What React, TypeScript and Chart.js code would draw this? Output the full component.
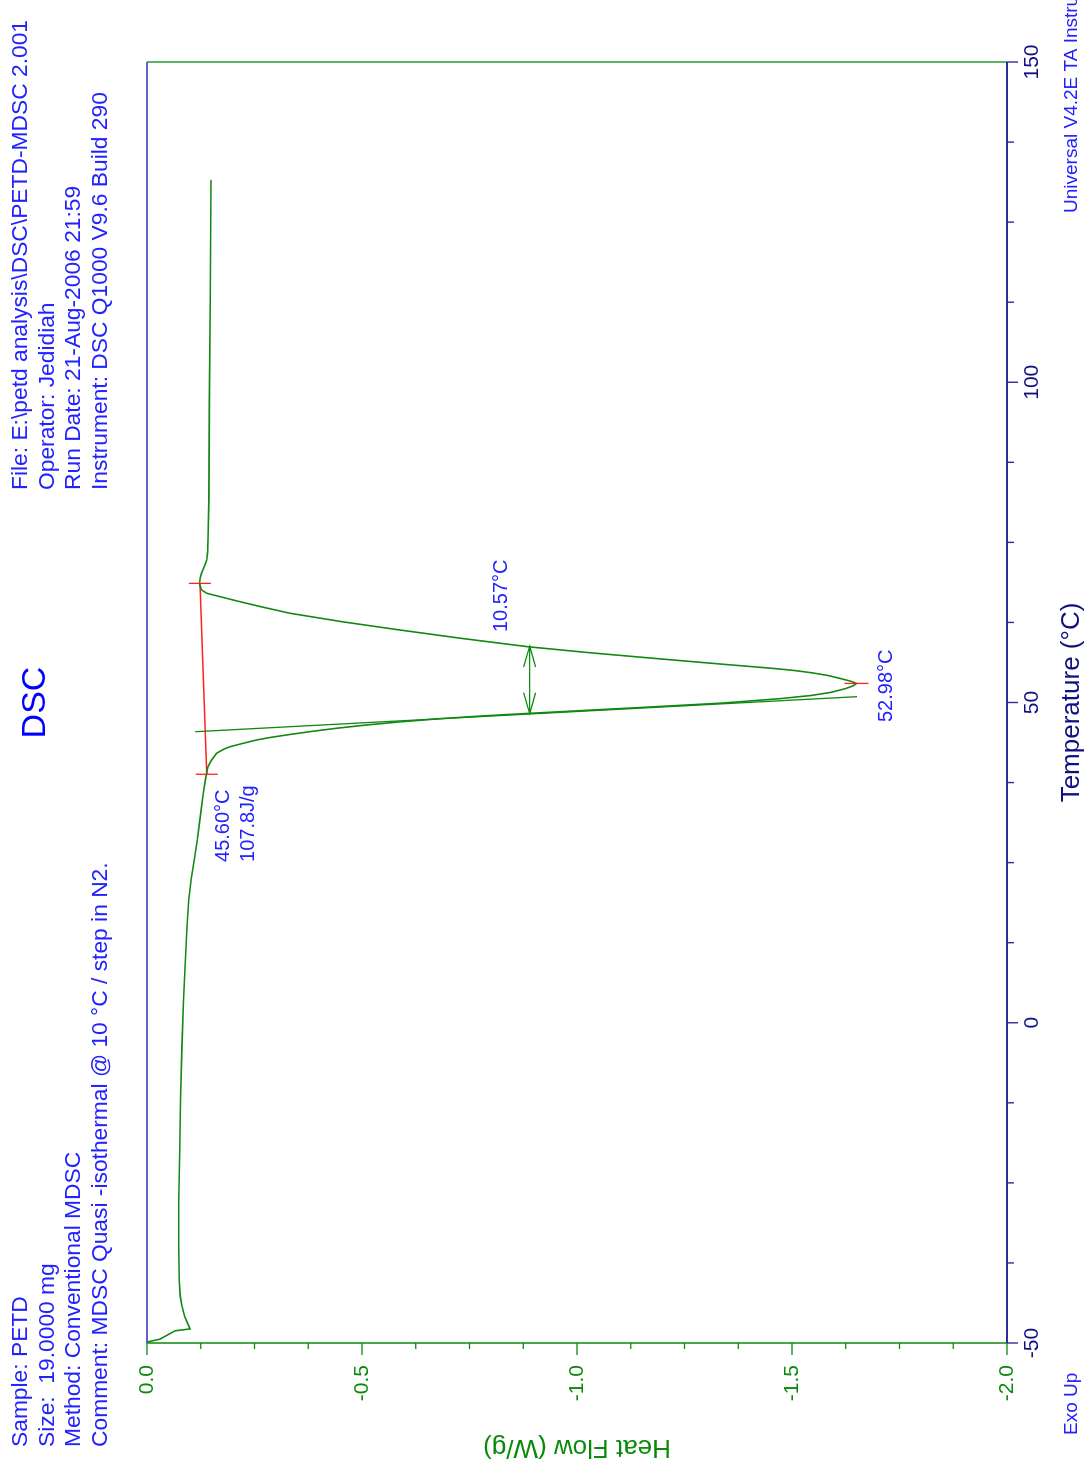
import { useEffect, useRef } from 'react';
import { Chart, registerables } from 'chart.js';

Chart.register(...registerables);

// ---------- data ----------
// DSC trace: temperature (°C) and heat flow (W/g)
const temperature = [
  -50.0, -49.8, -49.4, -48.1, -47.8, -45.9, -44.1, -42.5, -40.2, -35.0,
  -27.7, -20.0, -12.1, -4.0, 3.5, 11.0, 15.0, 19.2, 22.5, 25.4,
  28.5, 31.7, 35.8, 38.4, 40.0, 41.0, 42.07, 42.7, 43.1, 43.5,
  44.15, 44.5, 44.9, 45.45, 45.97, 46.5, 47.0, 47.5, 47.9, 48.3,
  49.3, 49.9, 50.6, 51.1, 51.6, 52.22, 52.6, 52.98, 53.3, 53.7,
  54.2, 54.65, 55.0, 55.3, 56.0, 56.8, 57.8, 58.7, 60.0, 61.32,
  62.6, 63.93, 64.8, 65.74, 66.4, 67.05, 67.57, 68.3, 68.6, 69.5,
  70.2, 71.2, 72.25, 73.5, 75.4, 81.6, 97.2, 112.8, 131.6,
];
const heatFlow = [
  0.0, -0.003, -0.03, -0.065, -0.1, -0.088, -0.081, -0.077, -0.075, -0.074,
  -0.074, -0.076, -0.078, -0.081, -0.085, -0.09, -0.093, -0.097, -0.103, -0.11,
  -0.117, -0.123, -0.131, -0.137, -0.142, -0.15, -0.162, -0.178, -0.193, -0.216,
  -0.255, -0.283, -0.321, -0.379, -0.44, -0.512, -0.592, -0.687, -0.779, -0.887,
  -1.17, -1.335, -1.472, -1.545, -1.592, -1.627, -1.642, -1.65, -1.638, -1.615,
  -1.585, -1.545, -1.505, -1.46, -1.335, -1.195, -1.025, -0.887, -0.733, -0.588,
  -0.455, -0.333, -0.275, -0.216, -0.177, -0.139, -0.127, -0.123, -0.122, -0.124,
  -0.127, -0.133, -0.139, -0.141, -0.142, -0.144, -0.145, -0.147, -0.149,
];

// onset tangent line (leading edge)
const tangentT = [45.44, 50.91];
const tangentH = [-0.112, -1.651];

// integration baseline (red)
const baselineT = [38.8, 68.6];
const baselineH = [-0.139, -0.123];

// peak marker
const peakT = 52.98;
const peakH = -1.65;

// peak width at half height
const widthT = [48.25, 58.82];
const widthH = -0.89;

// annotation texts and their data anchors
const annotationTexts = ['45.60°C', '107.8J/g', '10.57°C', '52.98°C'];
const annotationT = [25.1, 25.1, 61.0, 46.95];
const annotationH = [-0.191, -0.249, -0.837, -1.733];

// axes
const tempMin = -50;
const tempMax = 150;
const tempStep = 12.5;
const tempLabelEvery = 50;
const heatMin = -2;
const heatMax = 0;
const heatStep = 0.125;
const heatLabelEvery = 0.5;

const titleText = 'DSC';
const tempTitle = 'Temperature (°C)';
const heatTitle = 'Heat Flow (W/g)';
const headerLeft = [
  'Sample: PETD',
  'Size:  19.0000 mg',
  'Method: Conventional MDSC',
  'Comment: MDSC Quasi -isothermal @ 10 °C / step in N2.',
];
const headerRight = [
  'File: E:\\petd analysis\\DSC\\PETD-MDSC 2.001',
  'Operator: Jedidiah',
  'Run Date: 21-Aug-2006 21:59',
  'Instrument: DSC Q1000 V9.6 Build 290',
];
const exoText = 'Exo Up';
const versionText = 'Universal V4.2E TA Instruments';

// ---------- styles ----------
const W = 1465;
const H = 1088;
const FONT = "'Liberation Sans', Arial, Helvetica, sans-serif";
const BLUE = '#2222ff';
const GREEN = '#0a8a0a';
const CURVE = '#118811';
const NAVY = '#101080';
const AXIS_NAVY = '#2e2e98';
const FRAME_BLUE = '#6262c4';
const RED = '#ff2020';

const isMultiple = (v: number, m: number) => Math.abs(v / m - Math.round(v / m)) < 1e-6;

const decorPlugin = {
  id: 'decor',
  afterDraw(chart: any) {
    const { ctx, chartArea } = chart;
    const xs = chart.scales.x;
    const ys = chart.scales.y;
    const { left, right, top, bottom } = chartArea;
    ctx.save();

    // frame: top (blue), right (green)
    ctx.lineCap = 'butt';
    ctx.strokeStyle = FRAME_BLUE;
    ctx.lineWidth = 2;
    ctx.beginPath();
    ctx.moveTo(left, top);
    ctx.lineTo(right, top);
    ctx.stroke();
    ctx.strokeStyle = GREEN;
    ctx.lineWidth = 1.3;
    ctx.beginPath();
    ctx.moveTo(right, top);
    ctx.lineTo(right, bottom);
    ctx.stroke();

    // left axis (heat flow) in green with ticks
    ctx.strokeStyle = GREEN;
    ctx.lineWidth = 1.5;
    ctx.beginPath();
    ctx.moveTo(left, top);
    ctx.lineTo(left, bottom);
    ctx.stroke();
    ctx.lineWidth = 1.3;
    for (const t of ys.ticks) {
      const p = ys.getPixelForValue(t.value);
      const len = isMultiple(t.value, heatLabelEvery) ? 12 : 6;
      ctx.beginPath();
      ctx.moveTo(left, p);
      ctx.lineTo(left - len, p);
      ctx.stroke();
    }

    // bottom axis (temperature) in navy with ticks
    ctx.strokeStyle = AXIS_NAVY;
    ctx.lineWidth = 2;
    ctx.beginPath();
    ctx.moveTo(left, bottom);
    ctx.lineTo(right, bottom);
    ctx.stroke();
    ctx.lineWidth = 1.4;
    for (const t of xs.ticks) {
      const p = xs.getPixelForValue(t.value);
      const len = isMultiple(t.value, tempLabelEvery) ? 11 : 7;
      ctx.beginPath();
      ctx.moveTo(p, bottom);
      ctx.lineTo(p, bottom + len);
      ctx.stroke();
    }

    // red tick marks on baseline ends and peak
    ctx.strokeStyle = RED;
    ctx.lineWidth = 1.3;
    const tickH = 11;
    for (let i = 0; i < baselineT.length; i++) {
      const px = xs.getPixelForValue(baselineT[i]);
      const py = ys.getPixelForValue(baselineH[i]);
      ctx.beginPath();
      ctx.moveTo(px, py - tickH);
      ctx.lineTo(px, py + tickH);
      ctx.stroke();
    }
    {
      const px = xs.getPixelForValue(peakT);
      const py = ys.getPixelForValue(peakH);
      ctx.beginPath();
      ctx.moveTo(px, py - 12);
      ctx.lineTo(px, py + 12);
      ctx.stroke();
    }

    // width arrow heads
    {
      const y = ys.getPixelForValue(widthH);
      const x1 = xs.getPixelForValue(widthT[0]);
      const x2 = xs.getPixelForValue(widthT[1]);
      ctx.strokeStyle = GREEN;
      ctx.lineWidth = 1.2;
      const al = 21;
      const aw = 6;
      ctx.beginPath();
      ctx.moveTo(x1 + al, y - aw);
      ctx.lineTo(x1, y);
      ctx.lineTo(x1 + al, y + aw);
      ctx.moveTo(x2 - al, y - aw);
      ctx.lineTo(x2, y);
      ctx.lineTo(x2 - al, y + aw);
      ctx.stroke();
    }

    // annotation labels
    ctx.fillStyle = BLUE;
    ctx.font = `20px ${FONT}`;
    ctx.textAlign = 'left';
    ctx.textBaseline = 'alphabetic';
    for (let i = 0; i < annotationTexts.length; i++) {
      ctx.fillText(
        annotationTexts[i],
        xs.getPixelForValue(annotationT[i]),
        ys.getPixelForValue(annotationH[i])
      );
    }

    // title
    ctx.fillStyle = '#0000ff';
    ctx.font = `34px ${FONT}`;
    ctx.textAlign = 'center';
    ctx.fillText(titleText, (left + right) / 2, 45);

    // header blocks
    ctx.fillStyle = BLUE;
    ctx.font = `22.8px ${FONT}`;
    ctx.textAlign = 'left';
    for (let i = 0; i < headerLeft.length; i++) {
      ctx.fillText(headerLeft[i], 18, 27 + i * 26.7);
    }
    for (let i = 0; i < headerRight.length; i++) {
      ctx.fillText(headerRight[i], 975, 27 + i * 26.7);
    }

    // footer texts
    ctx.font = `19px ${FONT}`;
    ctx.fillText(exoText, 30, 1077);
    ctx.fillText(versionText, 1252, 1077);

    ctx.restore();
  },
};

export default function App() {
  const ref = useRef<HTMLCanvasElement | null>(null);

  useEffect(() => {
    document.body.style.margin = '0';
    const canvas = ref.current;
    if (!canvas) return;
    const curve = temperature.map((t, i) => ({ x: t, y: heatFlow[i] }));
    const tangent = tangentT.map((t, i) => ({ x: t, y: tangentH[i] }));
    const base = baselineT.map((t, i) => ({ x: t, y: baselineH[i] }));
    const widthLine = widthT.map((t) => ({ x: t, y: widthH }));

    const chart = new Chart(canvas, {
      type: 'scatter',
      data: {
        datasets: [
          {
            data: curve,
            showLine: true,
            borderColor: CURVE,
            borderWidth: 1.6,
            pointRadius: 0,
            tension: 0,
          },
          {
            data: tangent,
            showLine: true,
            borderColor: CURVE,
            borderWidth: 1.3,
            pointRadius: 0,
          },
          {
            data: base,
            showLine: true,
            borderColor: RED,
            borderWidth: 1.5,
            pointRadius: 0,
          },
          {
            data: widthLine,
            showLine: true,
            borderColor: CURVE,
            borderWidth: 1.2,
            pointRadius: 0,
          },
        ],
      },
      options: {
        animation: false,
        responsive: false,
        devicePixelRatio: 1,
        layout: { padding: { left: 0, right: 62, top: 147, bottom: 0 } },
        plugins: {
          legend: { display: false },
          tooltip: { enabled: false },
          title: { display: false },
        },
        scales: {
          x: {
            type: 'linear',
            position: 'bottom',
            min: tempMin,
            max: tempMax,
            afterFit: (s: any) => {
              s.height = 81;
            },
            grid: { display: false, drawTicks: false },
            border: { display: false },
            ticks: {
              stepSize: tempStep,
              autoSkip: false,
              maxRotation: 0,
              minRotation: 0,
              padding: 13,
              color: NAVY,
              font: { family: FONT, size: 21 },
              callback: (v: any) => (isMultiple(Number(v), tempLabelEvery) ? String(Math.round(Number(v))) : ''),
            },
            title: {
              display: true,
              text: tempTitle,
              color: NAVY,
              font: { family: FONT, size: 26 },
              padding: { top: 0, bottom: 1 },
            },
          },
          y: {
            type: 'linear',
            position: 'left',
            min: heatMin,
            max: heatMax,
            afterFit: (s: any) => {
              s.width = 122;
            },
            grid: { display: false, drawTicks: false },
            border: { display: false },
            ticks: {
              stepSize: heatStep,
              autoSkip: false,
              padding: 22,
              color: GREEN,
              font: { family: FONT, size: 21 },
              callback: (v: any) => {
                const n = Number(v);
                if (!isMultiple(n, heatLabelEvery)) return '';
                const s = Math.abs(n) < 1e-9 ? '0.0' : n.toFixed(1);
                return s;
              },
            },
            title: {
              display: true,
              text: heatTitle,
              color: GREEN,
              font: { family: FONT, size: 26 },
              padding: { top: 2, bottom: 0 },
            },
          },
        },
      },
      plugins: [decorPlugin],
    } as any);

    return () => chart.destroy();
  }, []);

  return (
    <div
      style={{
        position: 'fixed',
        left: 0,
        top: 0,
        width: W,
        height: H,
        background: '#ffffff',
        transformOrigin: '0 0',
        transform: `translate(0px, ${W}px) rotate(-90deg)`,
      }}
    >
      <canvas ref={ref} width={W} height={H} style={{ display: 'block', width: W, height: H }} />
    </div>
  );
}
